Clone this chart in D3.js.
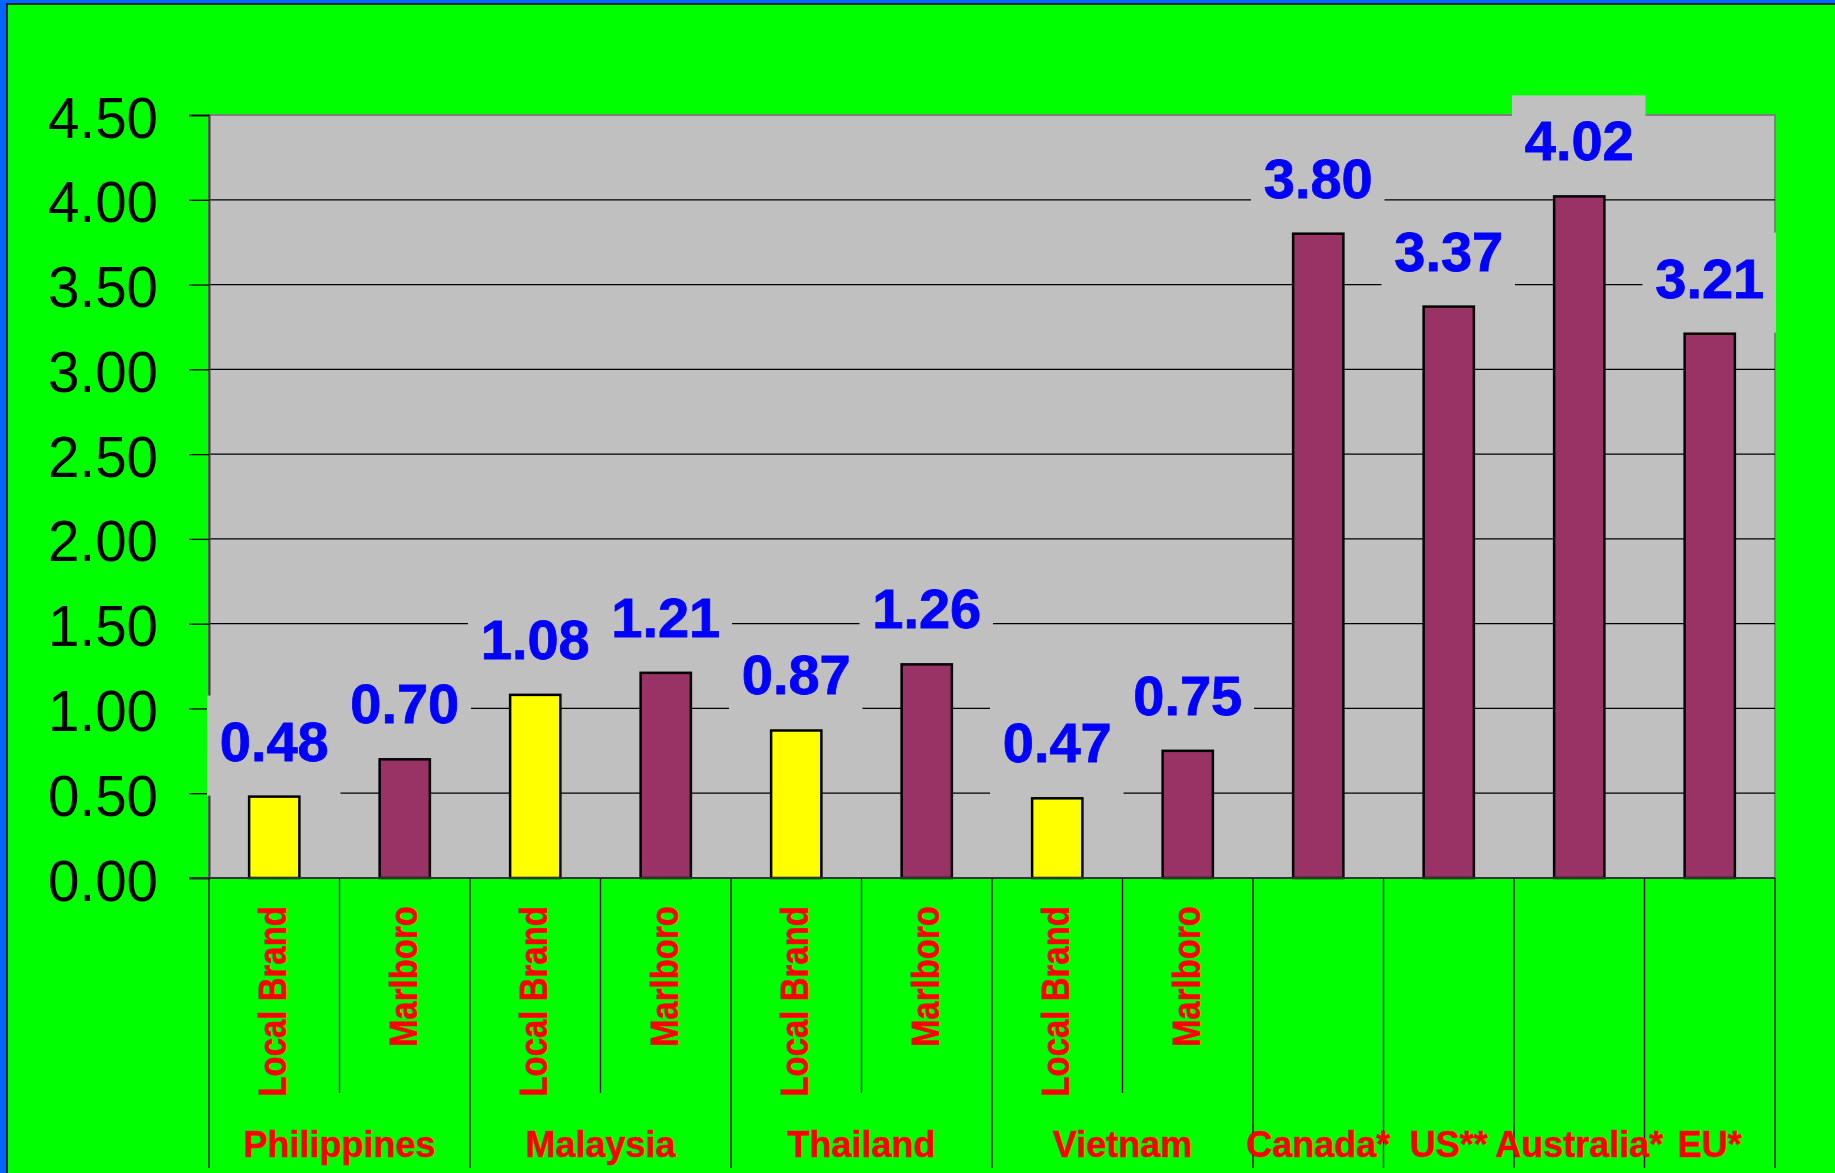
<!DOCTYPE html>
<html>
<head>
<meta charset="utf-8">
<script src="https://cdn.jsdelivr.net/npm/d3@7"></script>
<style>
  html, body { margin: 0; padding: 0; background: #00ff00; overflow: hidden; }
  text { font-family: "Liberation Sans", Arial, sans-serif; }
</style>
</head>
<body>
<div id="chart"></div>
<script>
// data
const countries = ["Philippines", "Malaysia", "Thailand", "Vietnam", "Canada*", "US**", "Australia*", "EU*"];
const barCountry = ["Philippines", "Philippines", "Malaysia", "Malaysia", "Thailand", "Thailand",
  "Vietnam", "Vietnam", "Canada*", "US**", "Australia*", "EU*"];
const brands = ["Local Brand", "Marlboro", "Local Brand", "Marlboro", "Local Brand", "Marlboro",
  "Local Brand", "Marlboro", "", "", "", ""];
const prices = [0.48, 0.70, 1.08, 1.21, 0.87, 1.26, 0.47, 0.75, 3.80, 3.37, 4.02, 3.21];
const yTicks = [0, 0.5, 1, 1.5, 2, 2.5, 3, 3.5, 4, 4.5];

const width = 1835, height = 1173;
const plot = { left: 209, right: 1775, top: 115, bottom: 878 };

const bars = prices.map((v, i) => ({ id: "b" + i, value: v, brand: brands[i], country: barCountry[i] }));

const svg = d3.select("#chart").append("svg")
  .attr("width", width).attr("height", height);

// page frame
svg.append("rect").attr("width", width).attr("height", height).attr("fill", "#0066ff");
svg.append("rect").attr("x", 7).attr("y", 4).attr("width", width).attr("height", height)
  .attr("fill", "#00ff00").attr("stroke", "#000").attr("stroke-width", 1.5);

const x = d3.scaleBand()
  .domain(bars.map(d => d.id))
  .range([plot.left, plot.right])
  .padding(0);

const y = d3.scaleLinear()
  .domain([0, 4.5])
  .range([plot.bottom, plot.top]);

// plot area
svg.append("rect")
  .attr("x", plot.left).attr("y", plot.top)
  .attr("width", plot.right - plot.left).attr("height", plot.bottom - plot.top)
  .attr("fill", "#c0c0c0").attr("stroke", "#808080").attr("stroke-width", 2);

// gridlines
svg.append("g").selectAll("line")
  .data(yTicks.filter(t => t > 0 && t < 4.5))
  .join("line")
  .attr("x1", plot.left).attr("x2", plot.right)
  .attr("y1", d => y(d)).attr("y2", d => y(d))
  .attr("stroke", "#000").attr("stroke-width", 1.3);

// y axis
const yAxis = svg.append("g")
  .attr("transform", `translate(${plot.left},0)`)
  .call(d3.axisLeft(y).tickValues(yTicks).tickFormat(d3.format(".2f")).tickSize(20).tickPadding(31));
yAxis.select(".domain").attr("stroke", "#404040").attr("stroke-width", 2);
yAxis.selectAll(".tick line").attr("stroke", "#000").attr("stroke-width", 1.3);
yAxis.selectAll(".tick text")
  .attr("font-family", "Liberation Sans, Arial, sans-serif")
  .attr("font-size", 56.5)
  .attr("fill", "#000")
  .attr("dy", null)
  .attr("y", 22);

// label backgrounds (hide gridlines behind value labels)
svg.append("g").selectAll("rect")
  .data(bars)
  .join("rect")
  .attr("x", d => x(d.id) - 2)
  .attr("y", d => y(d.value) - 101)
  .attr("width", x.bandwidth() + 3)
  .attr("height", 100)
  .attr("fill", "#c0c0c0");

// bars
const barW = x.bandwidth() * 0.385;
svg.append("g").selectAll("rect")
  .data(bars)
  .join("rect")
  .attr("x", d => x(d.id) + (x.bandwidth() - barW) / 2)
  .attr("y", d => y(d.value))
  .attr("width", barW)
  .attr("height", d => y(0) - y(d.value))
  .attr("fill", d => d.brand === "Local Brand" ? "#ffff00" : "#993366")
  .attr("stroke", "#000").attr("stroke-width", 2.5);

// base line
svg.append("line")
  .attr("x1", plot.left - 20).attr("x2", plot.right)
  .attr("y1", y(0)).attr("y2", y(0))
  .attr("stroke", "#333").attr("stroke-width", 2);

// value labels
svg.append("g").selectAll("text")
  .data(bars)
  .join("text")
  .attr("x", d => x(d.id) + x.bandwidth() / 2)
  .attr("y", d => y(d.value) - 36)
  .attr("text-anchor", "middle")
  .attr("font-size", 56)
  .attr("font-weight", "bold")
  .attr("fill", "#0000ff")
  .attr("stroke", "#0000ff").attr("stroke-width", 0.8)
  .text(d => d.value.toFixed(2));

// category separators below the axis
const edges = d3.range(bars.length + 1).map(i => {
  const left = bars[i - 1], right = bars[i];
  const groupEdge = !left || !right || left.country !== right.country;
  return { x: i < bars.length ? x(bars[i].id) : plot.right, long: groupEdge };
});
svg.append("g").selectAll("line")
  .data(edges)
  .join("line")
  .attr("x1", d => d.x).attr("x2", d => d.x)
  .attr("y1", plot.bottom).attr("y2", d => d.long ? 1168 : 1093)
  .attr("stroke", "#000").attr("stroke-width", 1.3);

// brand labels (rotated)
svg.append("g").selectAll("text")
  .data(bars.filter(d => d.brand))
  .join("text")
  .attr("transform", d => `translate(${x(d.id) + x.bandwidth() / 2 + 12},906) rotate(-90) scale(1,1.15)`)
  .attr("text-anchor", "end")
  .attr("font-size", 33)
  .attr("font-weight", "bold")
  .attr("fill", "#ff0000")
  .attr("stroke", "#ff0000").attr("stroke-width", 0.5)
  .text(d => d.brand);

// country labels
svg.append("g").selectAll("text")
  .data(countries)
  .join("text")
  .attr("x", c => {
    const ids = bars.filter(d => d.country === c).map(d => d.id);
    return (x(ids[0]) + x(ids[ids.length - 1]) + x.bandwidth()) / 2;
  })
  .attr("y", 1157)
  .attr("text-anchor", "middle")
  .attr("font-size", 36)
  .attr("font-weight", "bold")
  .attr("fill", "#ff0000")
  .attr("stroke", "#ff0000").attr("stroke-width", 0.5)
  .text(c => c);
</script>
</body>
</html>
